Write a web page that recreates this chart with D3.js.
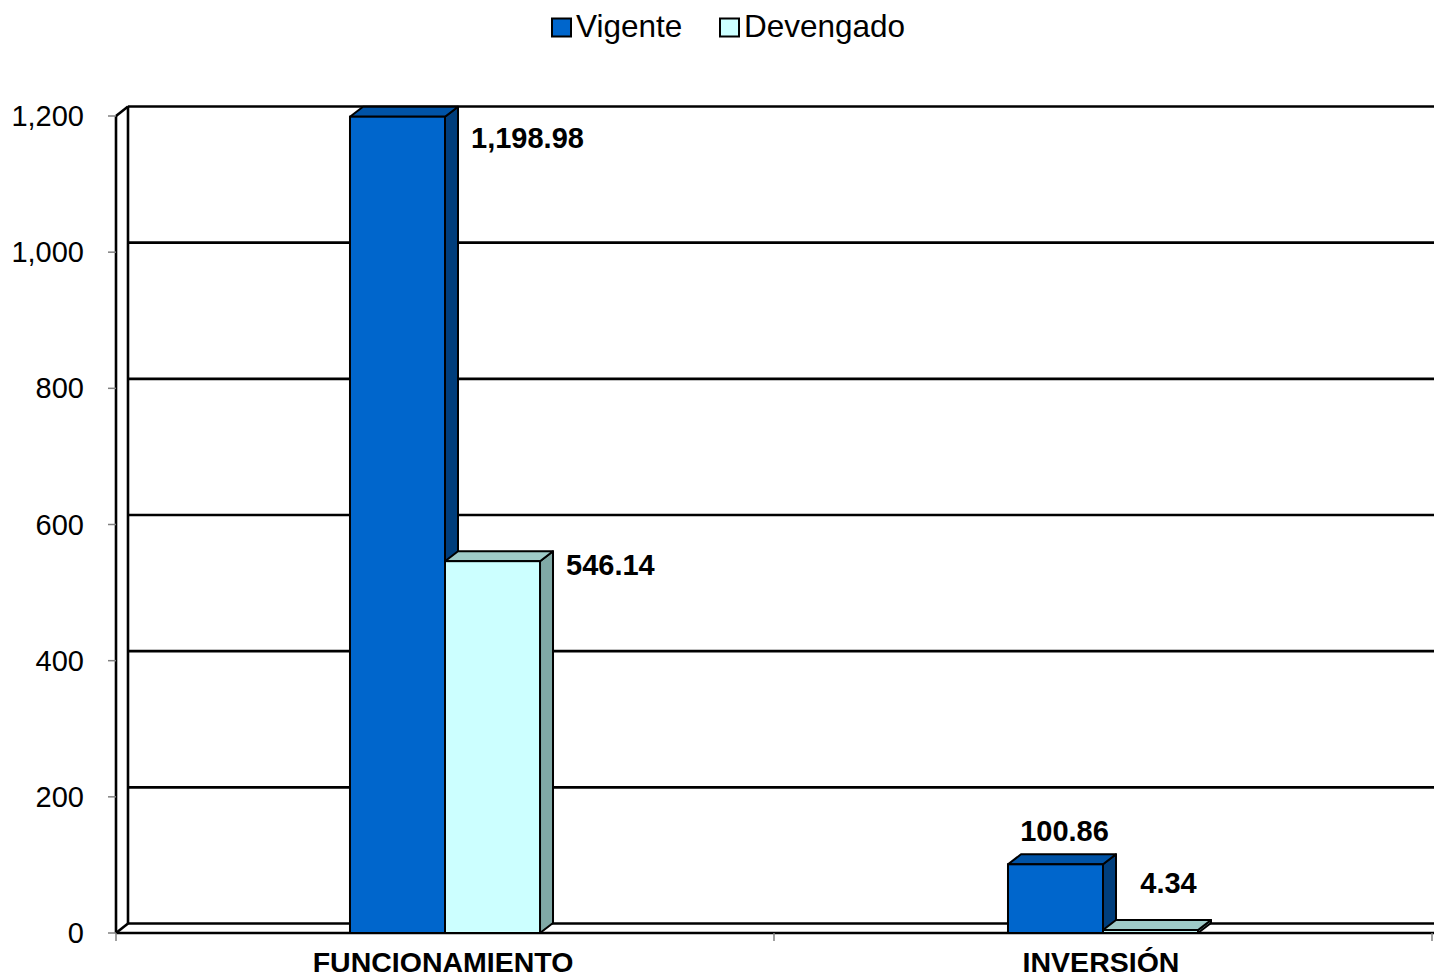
<!DOCTYPE html>
<html>
<head>
<meta charset="utf-8">
<script src="https://cdn.jsdelivr.net/npm/d3@7"></script>
<style>
  html, body { margin: 0; padding: 0; background: #ffffff; }
  svg { display: block; font-family: "Liberation Sans", Arial, sans-serif; }
</style>
</head>
<body>
<svg id="chart" width="1434" height="979"></svg>
<script>
// ---- data ----
const categories = ["FUNCIONAMIENTO", "INVERSIÓN"];
const seriesNames = ["Vigente", "Devengado"];
const vigente = [1198.98, 100.86];
const devengado = [546.14, 4.34];
const valueLabels = [["1,198.98", "546.14"], ["100.86", "4.34"]];
const yTicks = [0, 200, 400, 600, 800, 1000, 1200];

// ---- styles / layout ----
const W = 1434, H = 979;
const frontLeft = 116, frontRight = 1432;
const yFront0 = 933, yFrontTop = 116;
const wallDx = 12, wallDy = -9.5;
const barDx = 13, barDy = -10;
const colors = {
  Vigente: { front: "#0066CC", top: "#0053A6", side: "#003E7C" },
  Devengado: { front: "#CCFFFF", top: "#9FCBC8", side: "#80A9A6" }
};
// label placement relative to bar (layout only)
const labelPlace = [
  [{ ref: "right", dx: 13, dy: 31, anchor: "start" }, { ref: "right", dx: 13, dy: 14, anchor: "start" }],
  [{ ref: "center", dx: 9, dy: -23, anchor: "middle" }, { ref: "center", dx: 18, dy: -37, anchor: "middle" }]
];

const svg = d3.select("#chart");
const y = d3.scaleLinear().domain([0, 1200]).range([yFront0, yFrontTop]);
const x0 = d3.scaleBand().domain(categories).range([frontLeft, frontRight])
  .paddingInner(0.7112).paddingOuter(0.3556);
const x1 = d3.scaleBand().domain(seriesNames).range([0, x0.bandwidth()]).padding(0);

const lineW = 2.6;

// back wall gridlines
svg.append("g").selectAll("line").data(yTicks).join("line")
  .attr("x1", frontLeft + wallDx).attr("x2", W)
  .attr("y1", d => y(d) + wallDy).attr("y2", d => y(d) + wallDy)
  .attr("stroke", "#000").attr("stroke-width", lineW);

// back wall left vertical
svg.append("line")
  .attr("x1", frontLeft + wallDx).attr("x2", frontLeft + wallDx)
  .attr("y1", y(1200) + wallDy).attr("y2", y(0) + wallDy)
  .attr("stroke", "#000").attr("stroke-width", lineW);

// front left wall edge
svg.append("line")
  .attr("x1", frontLeft).attr("x2", frontLeft)
  .attr("y1", y(1200)).attr("y2", y(0))
  .attr("stroke", "#000").attr("stroke-width", lineW);
// diagonals top and bottom
[1200, 0].forEach(v => {
  svg.append("line")
    .attr("x1", frontLeft).attr("y1", y(v))
    .attr("x2", frontLeft + wallDx).attr("y2", y(v) + wallDy)
    .attr("stroke", "#000").attr("stroke-width", lineW);
});
// floor front edge
svg.append("line")
  .attr("x1", frontLeft).attr("x2", W)
  .attr("y1", y(0)).attr("y2", y(0))
  .attr("stroke", "#000").attr("stroke-width", lineW);

// y ticks (gray)
svg.append("g").selectAll("line").data(yTicks).join("line")
  .attr("x1", frontLeft - 8).attr("x2", frontLeft)
  .attr("y1", d => y(d)).attr("y2", d => y(d))
  .attr("stroke", "#808080").attr("stroke-width", 1.5);
// x ticks
const xTickPos = [frontLeft, (frontLeft + frontRight) / 2, frontRight];
svg.append("g").selectAll("line").data(xTickPos).join("line")
  .attr("x1", d => d).attr("x2", d => d)
  .attr("y1", y(0)).attr("y2", y(0) + 8)
  .attr("stroke", "#808080").attr("stroke-width", 1.5);

// y tick labels
const fmt = d3.format(",");
svg.append("g").selectAll("text").data(yTicks).join("text")
  .attr("x", 84).attr("y", d => y(d))
  .attr("dy", "0.35em")
  .attr("text-anchor", "end")
  .attr("font-size", 29)
  .attr("fill", "#000")
  .text(d => fmt(d));

// bars
const bars = [];
categories.forEach((c, ci) => {
  [vigente[ci], devengado[ci]].forEach((v, si) => {
    bars.push({ cat: c, ci, series: seriesNames[si], si, value: v });
  });
});

const gBars = svg.append("g");
bars.forEach(b => {
  const xl = x0(b.cat) + x1(b.series);
  const xr = xl + x1.bandwidth();
  const yt = y(b.value), yb = y(0);
  const col = colors[b.series];
  const g = gBars.append("g");
  g.append("path")
    .attr("d", `M${xr},${yb} L${xr + barDx},${yb + barDy} L${xr + barDx},${yt + barDy} L${xr},${yt} Z`)
    .attr("fill", col.side).attr("stroke", "#000").attr("stroke-width", 2).attr("stroke-linejoin", "round");
  g.append("path")
    .attr("d", `M${xl},${yt} L${xl + barDx},${yt + barDy} L${xr + barDx},${yt + barDy} L${xr},${yt} Z`)
    .attr("fill", col.top).attr("stroke", "#000").attr("stroke-width", 2).attr("stroke-linejoin", "round");
  g.append("rect")
    .attr("x", xl).attr("y", yt).attr("width", xr - xl).attr("height", yb - yt)
    .attr("fill", col.front).attr("stroke", "#000").attr("stroke-width", 2);
});

// value labels
bars.forEach(b => {
  const p = labelPlace[b.ci][b.si];
  const xl = x0(b.cat) + x1(b.series);
  const xr = xl + x1.bandwidth();
  const ax = p.ref === "right" ? xr + barDx : (xl + xr) / 2;
  svg.append("text")
    .attr("x", ax + p.dx).attr("y", y(b.value) + p.dy)
    .attr("text-anchor", p.anchor)
    .attr("font-size", 29).attr("font-weight", "bold").attr("fill", "#000")
    .text(valueLabels[b.ci][b.si]);
});

// category labels
svg.append("g").selectAll("text").data(categories).join("text")
  .attr("x", d => x0(d) + x0.bandwidth() / 2 - 2)
  .attr("y", 972)
  .attr("text-anchor", "middle")
  .attr("font-size", 28.5).attr("font-weight", "bold").attr("fill", "#000")
  .text(d => d);

// legend
const legendItems = [
  { name: "Vigente", x: 551 },
  { name: "Devengado", x: 719 }
];
const lg = svg.append("g");
legendItems.forEach(it => {
  lg.append("rect")
    .attr("x", it.x + 1).attr("y", 18.5).attr("width", 19).attr("height", 18)
    .attr("fill", colors[it.name].front).attr("stroke", "#000").attr("stroke-width", 2);
  lg.append("text")
    .attr("x", it.x + 25).attr("y", 37)
    .attr("font-size", 31.5).attr("fill", "#000")
    .text(it.name);
});
</script>
</body>
</html>
